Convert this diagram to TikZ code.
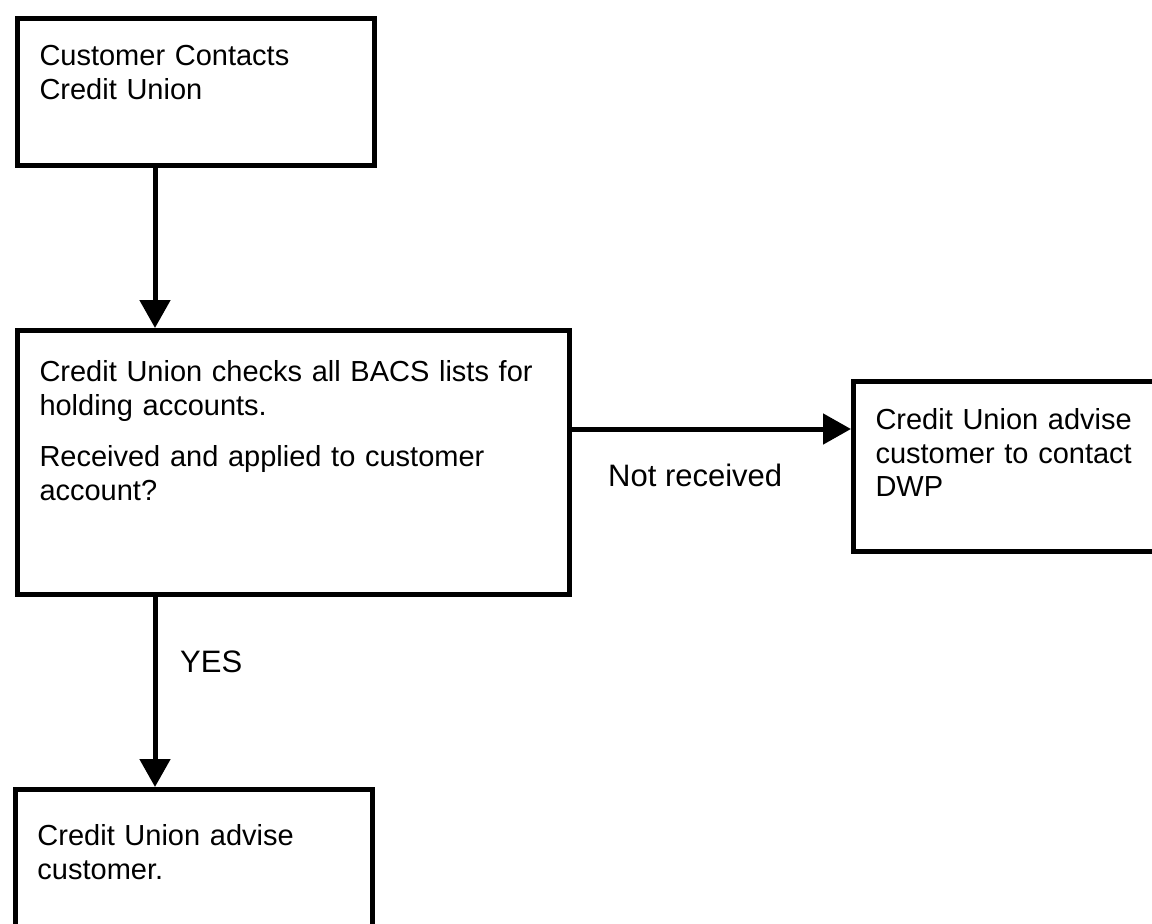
\documentclass[tikz,border=0pt]{standalone}
\usepackage{fontspec}
\setmainfont{Liberation Sans}
\usepackage{tikz}
\usetikzlibrary{positioning, arrows.meta}

\newcommand{\boxfont}{\fontsize{29pt}{33.5pt}\selectfont}
\newcommand{\lblfont}{\fontsize{31pt}{36pt}\selectfont}

\tikzset{
  stepbox/.style={draw, line width=5pt, inner xsep=22pt, inner ysep=0pt,
    align=left, anchor=north west, font=\boxfont},
  boxsize/.style n args={3}{text width=#1, text height=#2, text depth=#3},
  flow/.style={line width=5pt, -{Triangle[width=30pt, length=28pt]}},
  lbl/.style={inner sep=0pt, anchor=base west, font=\lblfont}
}

\begin{document}
\begin{tikzpicture}[x=1pt, y=-1pt]
\useasboundingbox (0,0) rectangle (1152,924);
\clip (0,0) rectangle (1152,924);

% boxes
\node[stepbox, boxsize={313pt}{47pt}{100pt}] (contact) at (15,16)
  {Customer Contacts\\Credit Union};
\node[stepbox, boxsize={508pt}{51pt}{213pt}] (checks) at (15,328)
  {Credit Union checks all BACS lists for\\holding accounts.\\[18pt]Received and applied to customer\\account?};
\node[stepbox, boxsize={280pt}{48pt}{122pt}] (dwp) at (851,379)
  {Credit Union advise\\customer to contact\\DWP};
\node[stepbox, boxsize={313pt}{56pt}{110pt}] (advise) at (13,787)
  {Credit Union advise\\customer.};

% helper coordinates for the connectors
\coordinate (spine) at (155,0);
\coordinate (level) at (0,429);

\draw[flow] (contact.south -| spine) -- (checks.north -| spine);
\draw[flow] (checks.east |- level) -- (dwp.west |- level);
\draw[flow] (checks.south -| spine) -- (advise.north -| spine);

% labels
\node[lbl] (notrec) at (608,486) {Not received};
\node[lbl] (yes) at (180,672) {YES};
\end{tikzpicture}
\end{document}
